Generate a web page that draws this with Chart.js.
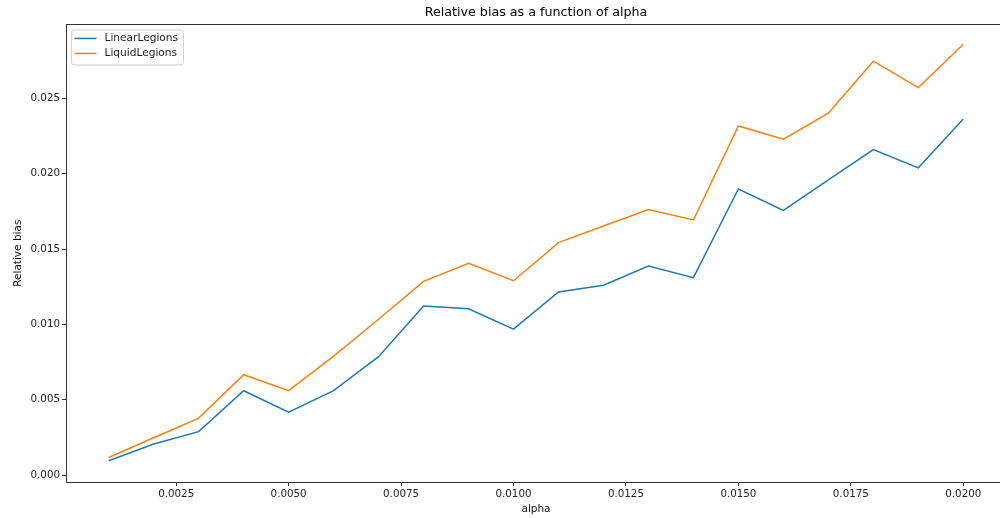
<!DOCTYPE html>
<html>
<head>
<meta charset="utf-8">
<script src="https://cdn.jsdelivr.net/npm/chart.js@4.4.0/dist/chart.umd.min.js"></script>
<style>
  html, body { margin: 0; padding: 0; background: #fff; overflow: hidden; }
  #wrap { width: 1008px; height: 518px; position: relative; }
</style>
</head>
<body>
<div id="wrap"><canvas id="c"></canvas></div>
<script>
// alpha values on the x axis
const alpha = [0.001, 0.002, 0.003, 0.004, 0.005, 0.006, 0.007, 0.008, 0.009, 0.010,
               0.011, 0.012, 0.013, 0.014, 0.015, 0.016, 0.017, 0.018, 0.019, 0.020];

// relative bias for each sketch type
const linearLegions = [0.00095, 0.00206, 0.00288, 0.0056, 0.00418, 0.0056, 0.00786, 0.01122, 0.01104, 0.00969,
                       0.01215, 0.0126, 0.01388, 0.0131, 0.01899, 0.01757, 0.01959, 0.0216, 0.02039, 0.02364];
const liquidLegions = [0.00117, 0.00248, 0.00378, 0.00666, 0.0056, 0.0079, 0.01034, 0.01286, 0.01406, 0.0129,
                       0.01543, 0.01653, 0.01762, 0.01693, 0.02317, 0.02229, 0.02402, 0.02747, 0.02572, 0.0286];

// tick positions
const xTicks = [0.0025, 0.0050, 0.0075, 0.0100, 0.0125, 0.0150, 0.0175, 0.0200];
const yTicks = [0.000, 0.005, 0.010, 0.015, 0.020, 0.025];

const FONT = 'DejaVu Sans';
const SPINE = '#333';

const toPoints = ys => alpha.map((a, i) => ({ x: a, y: ys[i] }));

// Legend box drawn inside the top-left corner of the plot area
const innerLegend = {
  id: 'innerLegend',
  afterDatasetsDraw(chart) {
    const { ctx, chartArea } = chart;
    const x0 = chartArea.left + 5.5, y0 = chartArea.top + 5.5;
    const w = 112, h = 35, r = 2.5;
    ctx.save();
    ctx.beginPath();
    ctx.moveTo(x0 + r, y0);
    ctx.arcTo(x0 + w, y0, x0 + w, y0 + h, r);
    ctx.arcTo(x0 + w, y0 + h, x0, y0 + h, r);
    ctx.arcTo(x0, y0 + h, x0, y0, r);
    ctx.arcTo(x0, y0, x0 + w, y0, r);
    ctx.closePath();
    ctx.fillStyle = 'rgba(255,255,255,0.8)';
    ctx.fill();
    ctx.strokeStyle = '#d0d0d0';
    ctx.lineWidth = 1;
    ctx.stroke();
    ctx.font = '10.6px "' + FONT + '"';
    ctx.textBaseline = 'middle';
    ctx.textAlign = 'left';
    chart.data.datasets.forEach((ds, i) => {
      const yy = y0 + 8.5 + i * 15;
      ctx.beginPath();
      ctx.moveTo(x0 + 3, yy);
      ctx.lineTo(x0 + 25, yy);
      ctx.strokeStyle = ds.borderColor;
      ctx.lineWidth = 1.5;
      ctx.stroke();
      ctx.fillStyle = '#222';
      ctx.fillText(ds.label, x0 + 33, yy);
    });
    ctx.restore();
  }
};

// Full frame around the plot area
const frame = {
  id: 'frame',
  afterDraw(chart) {
    const { ctx, chartArea } = chart;
    ctx.save();
    ctx.strokeStyle = SPINE;
    ctx.lineWidth = 1;
    ctx.strokeRect(Math.round(chartArea.left) + 0.5, Math.round(chartArea.top) + 0.5,
                   Math.round(chartArea.right - chartArea.left), Math.round(chartArea.bottom - chartArea.top));
    ctx.restore();
  }
};

new Chart(document.getElementById('c'), {
  type: 'line',
  data: {
    datasets: [
      { label: 'LinearLegions', data: toPoints(linearLegions), borderColor: '#1f77b4',
        backgroundColor: '#1f77b4', borderWidth: 1.5, pointRadius: 0, tension: 0, fill: false },
      { label: 'LiquidLegions', data: toPoints(liquidLegions), borderColor: '#ff7f0e',
        backgroundColor: '#ff7f0e', borderWidth: 1.5, pointRadius: 0, tension: 0, fill: false }
    ]
  },
  options: {
    responsive: true,
    maintainAspectRatio: false,
    devicePixelRatio: 1,
    animation: false,
    layout: { padding: { left: 0, right: 2, top: 0, bottom: 0 } },
    plugins: {
      legend: { display: false },
      tooltip: { enabled: false },
      title: {
        display: true,
        text: 'Relative bias as a function of alpha',
        fullSize: false,
        color: '#000',
        font: { family: FONT, size: 12.7, weight: 'normal' },
        padding: { top: 5.4, bottom: 3.8 }
      }
    },
    scales: {
      x: {
        type: 'linear',
        min: 0.00005,
        max: 0.02095,
        afterBuildTicks: s => { s.ticks = xTicks.map(v => ({ value: v })); },
        afterFit: s => { s.height = 36; },
        ticks: {
          callback: v => v.toFixed(4),
          color: '#222',
          font: { family: FONT, size: 10.3 },
          padding: 2,
          maxRotation: 0,
          autoSkip: false,
          includeBounds: false
        },
        grid: { drawOnChartArea: false, drawTicks: true, tickLength: 4, color: SPINE },
        border: { display: true, color: SPINE },
        title: { display: true, text: 'alpha', color: '#111',
                 font: { family: FONT, size: 10.5 }, padding: { top: 0, bottom: 2 } }
      },
      y: {
        type: 'linear',
        min: -0.00046,
        max: 0.02991,
        afterBuildTicks: s => { s.ticks = yTicks.map(v => ({ value: v })); },
        afterFit: s => { s.width = 66; },
        ticks: {
          callback: v => v.toFixed(3),
          color: '#222',
          font: { family: FONT, size: 10.3 },
          padding: 2,
          autoSkip: false,
          includeBounds: false
        },
        grid: { drawOnChartArea: false, drawTicks: true, tickLength: 4, color: SPINE },
        border: { display: true, color: SPINE },
        title: { display: true, text: 'Relative bias', color: '#111',
                 font: { family: FONT, size: 10.5 }, padding: { top: 11.5, bottom: 0 } }
      }
    }
  },
  plugins: [innerLegend, frame]
});
</script>
</body>
</html>
